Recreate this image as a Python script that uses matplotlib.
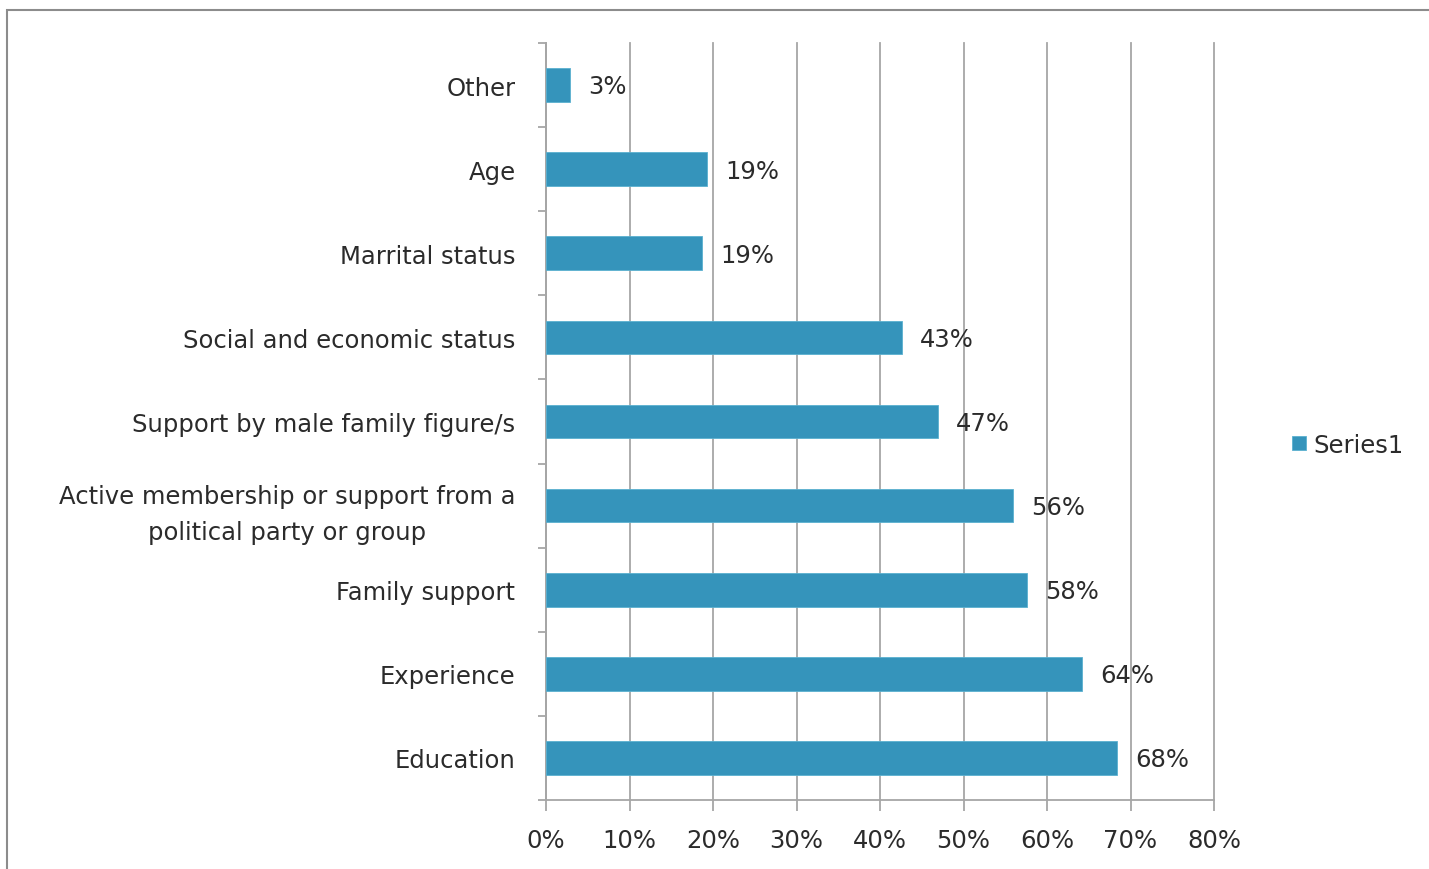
import numpy as np
import matplotlib.pyplot as plt
from matplotlib.patches import Rectangle

categories = ["Education", "Experience", "Family support",
              "Active membership or support from a\npolitical party or group",
              "Support by male family figure/s", "Social and economic status",
              "Marrital status", "Age", "Other"]
values = [68.4, 64.2, 57.6, 55.9, 46.9, 42.6, 18.7, 19.3, 2.9]
xticks = [0, 10, 20, 30, 40, 50, 60, 70, 80]

bar_color = "#3594BB"
grid_color = "#A6A6A6"
text_color = "#2B2B2B"
fs = 17.5

plt.rcParams['font.family'] = ['DejaVu Sans']

fig = plt.figure(figsize=(14.29, 8.7), dpi=100)
W, H = 1429, 870
ax = fig.add_axes([546 / W, 1 - 801 / H, (1214 - 546) / W, (801 - 44) / H])

# outer chart frame (runs off the right and bottom edges)
fig.patches.append(Rectangle((7 / W, -0.05), 1.1, 1 - 11 / H + 0.05,
                             transform=fig.transFigure, fill=False,
                             edgecolor="#8C8C8C", linewidth=1.5))

y = np.arange(len(categories))
ax.barh(y, values, height=0.40, color=bar_color, edgecolor="#5AB0D0",
        linewidth=0.6, zorder=3)

for yi, v in zip(y, values):
    ax.annotate("%d%%" % round(v), (v, yi), xytext=(13, -1),
                textcoords="offset points", va="center", ha="left",
                fontsize=fs, color=text_color, zorder=4)

ax.set_xlim(0, 80)
ax.set_ylim(-0.5, len(categories) - 0.5)
ax.set_xticks(xticks)
ax.set_xticklabels(["%d%%" % t for t in xticks], fontsize=fs, color=text_color)
ax.xaxis.grid(True, color=grid_color, linewidth=1.3, zorder=0)
for gl in ax.get_xgridlines():
    gl.set_clip_on(False)

# category labels between boundary ticks
ax.set_yticks(y)
ax.set_yticklabels(categories, fontsize=fs, color=text_color,
                   multialignment="center", linespacing=1.6)
ax.tick_params(axis="y", length=0, pad=22)
ax.set_yticks(np.arange(-0.5, len(categories)), minor=True)
ax.tick_params(axis="y", which="minor", length=6, color=grid_color, width=1.3)
ax.tick_params(axis="x", length=8, color=grid_color, width=1.3, pad=12)

for s in ["top", "right"]:
    ax.spines[s].set_visible(False)
for s in ["left", "bottom"]:
    ax.spines[s].set_color(grid_color)
    ax.spines[s].set_linewidth(1.3)

# legend
fig.patches.append(Rectangle((1292 / W, 1 - 451 / H), 14 / W, 14 / H,
                             transform=fig.transFigure, facecolor=bar_color,
                             edgecolor="#5AB0D0", linewidth=0.6))
fig.text(1313 / W, 1 - 446 / H, "Series1", fontsize=fs, color=text_color,
         va="center", ha="left")

fig.savefig("out.png", dpi=100)
